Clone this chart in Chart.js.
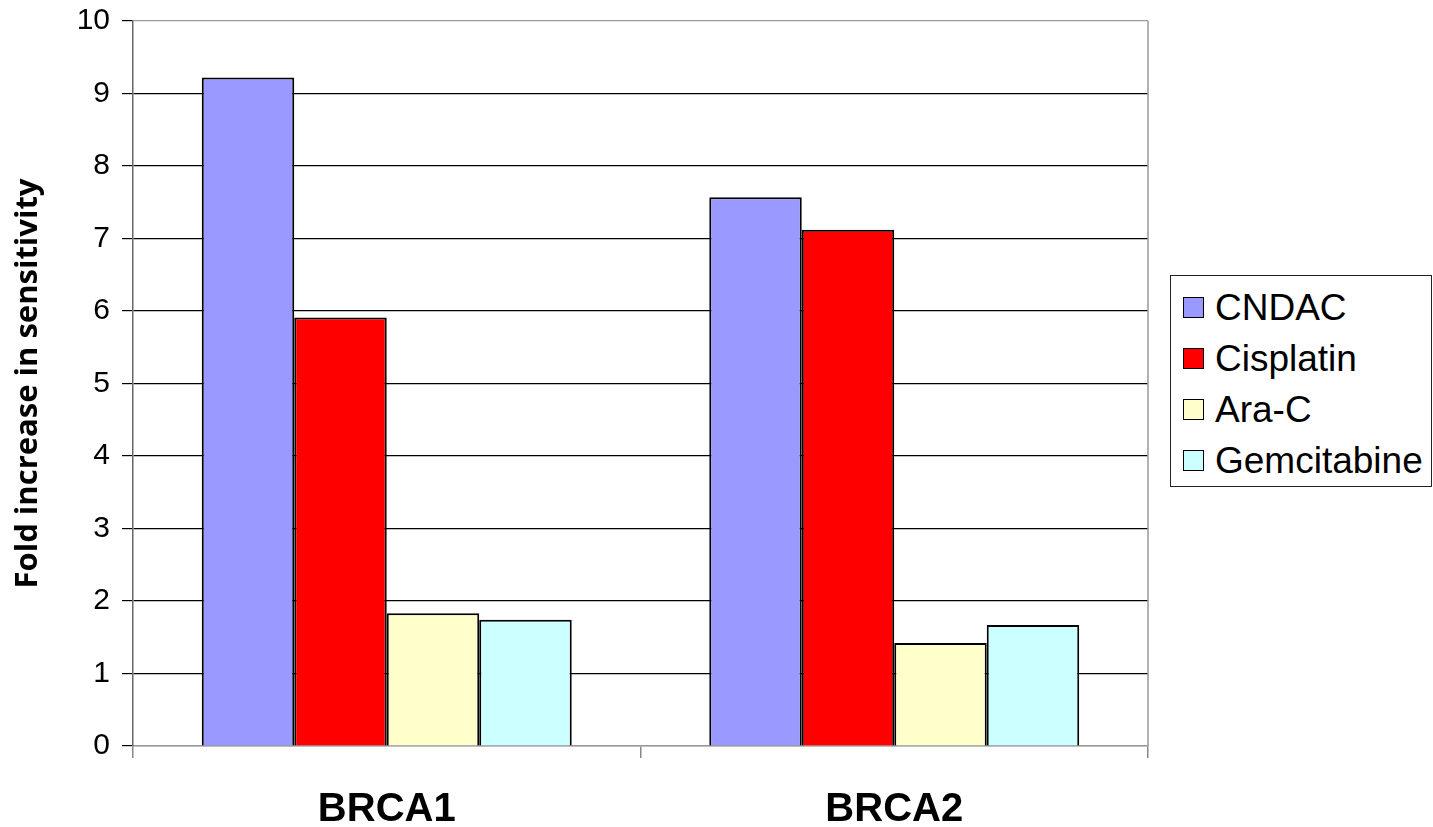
<!DOCTYPE html>
<html>
<head>
<meta charset="utf-8">
<script src="https://cdn.jsdelivr.net/npm/chart.js@4.4.1/dist/chart.umd.min.js"></script>
<style>
  html, body { margin: 0; padding: 0; background: #fff; }
  #wrap { position: relative; width: 1433px; height: 827px; }
  #chart { position: absolute; left: 0; top: 0; }
  #legend {
    position: absolute; left: 1170px; top: 275px; width: 262px; height: 212px;
    border: 1px solid #222; box-sizing: border-box; background: #fff;
    font-family: "Liberation Sans", Arial, sans-serif; font-size: 37px; color: #000;
    padding-top: 6px;
  }
  #legend .item { display: flex; align-items: center; height: 51px; padding-left: 12px; }
  #legend .sw { width: 21px; height: 21px; border: 1.5px solid #000; margin-right: 11px; box-sizing: border-box; }
</style>
</head>
<body>
<div id="wrap">
  <canvas id="chart" width="1433" height="827"></canvas>
  <div id="legend"></div>
</div>
<script>
// Cell lines and the drugs tested on them
const categories = ["BRCA1", "BRCA2"];
const drugNames = ["CNDAC", "Cisplatin", "Ara-C", "Gemcitabine"];
// Fold increase in sensitivity, one array per drug (BRCA1, BRCA2)
const cndac = [9.22, 7.57];
const cisplatin = [5.91, 7.12];
const araC = [1.83, 1.42];
const gemcitabine = [1.74, 1.67];
const yTicks = [0, 1, 2, 3, 4, 5, 6, 7, 8, 9, 10];
const drugColors = ["#9999FF", "#FF0000", "#FFFFCC", "#CCFFFF"];

const seriesValues = [cndac, cisplatin, araC, gemcitabine];

// Right-hand frame line of the plot area
const frame = {
  id: 'frame',
  afterDraw(chart) {
    const { ctx, chartArea } = chart;
    ctx.save();
    ctx.strokeStyle = '#999';
    ctx.lineWidth = 1.5;
    ctx.beginPath();
    ctx.moveTo(chartArea.right, chartArea.top);
    ctx.lineTo(chartArea.right, chartArea.bottom);
    ctx.stroke();
    ctx.restore();
  }
};

new Chart(document.getElementById('chart'), {
  type: 'bar',
  data: {
    labels: categories,
    datasets: drugNames.map((name, i) => ({
      label: name,
      data: seriesValues[i],
      backgroundColor: drugColors[i],
      borderColor: '#000',
      borderWidth: 2,
      categoryPercentage: 0.729,
      barPercentage: 1.0
    }))
  },
  options: {
    responsive: false,
    animation: false,
    layout: { padding: { top: 21, right: 285, left: 0, bottom: 0 } },
    plugins: { legend: { display: false }, tooltip: { enabled: false } },
    scales: {
      x: {
        offset: true,
        grid: {
          offset: true, drawOnChartArea: false, drawTicks: true,
          tickLength: 12, color: '#888', lineWidth: 1.5
        },
        border: { display: true, color: '#999', width: 1.5 },
        ticks: {
          color: '#000', padding: 28,
          font: { family: '"Liberation Sans", Arial, sans-serif', size: 40, weight: 'bold' }
        },
        afterFit(scale) { scale.height = 827 - 746; }
      },
      y: {
        min: 0, max: 10,
        afterBuildTicks(scale) { scale.ticks = yTicks.map(v => ({ value: v })); },
        grid: {
          color: ctx => (ctx.tick && (ctx.tick.value === 10 || ctx.tick.value === 0)) ? '#999' : '#000',
          lineWidth: 1.2,
          tickLength: 11,
          tickColor: '#000'
        },
        border: { display: true, color: '#666', width: 1.5 },
        ticks: {
          color: '#000', padding: 12,
          font: { family: '"Liberation Sans", Arial, sans-serif', size: 30 }
        },
        title: {
          display: true,
          text: 'Fold increase in sensitivity',
          color: '#000',
          padding: { top: 10, bottom: 0 },
          font: { family: '"Open Sans", sans-serif', size: 31, weight: 'bold' }
        },
        afterFit(scale) {
          scale.width = 133;
          scale.paddingTop = 0;
          scale.paddingBottom = 0;
        }
      }
    }
  },
  plugins: [frame]
});

// Legend entries
const legend = document.getElementById('legend');
drugNames.forEach((name, i) => {
  const item = document.createElement('div');
  item.className = 'item';
  const sw = document.createElement('span');
  sw.className = 'sw';
  sw.style.background = drugColors[i];
  const label = document.createElement('span');
  label.textContent = name;
  item.appendChild(sw);
  item.appendChild(label);
  legend.appendChild(item);
});
</script>
</body>
</html>
